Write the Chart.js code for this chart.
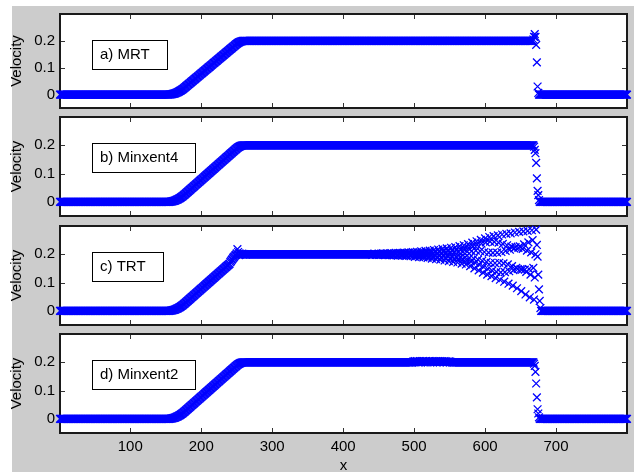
<!DOCTYPE html>
<html>
<head>
<meta charset="utf-8">
<script src="https://cdn.jsdelivr.net/npm/chart.js@4.4.1/dist/chart.umd.min.js"></script>
<style>
  html, body { margin: 0; padding: 0; background: #fff; }
  #fig { position: relative; width: 634px; height: 472px; overflow: hidden; }
  #bg { position: absolute; left: 12px; top: 6px; right: 0; bottom: 0; background: #cccccc; }
  canvas { position: absolute; left: 0; top: 0; }
</style>
</head>
<body>
<div id="fig">
  <div id="bg"></div>
  <canvas id="c0" width="634" height="472"></canvas>
  <canvas id="c1" width="634" height="472"></canvas>
  <canvas id="c2" width="634" height="472"></canvas>
  <canvas id="c3" width="634" height="472"></canvas>
</div>
<script>
// axis ticks
const xTicks = [100, 200, 300, 400, 500, 600, 700];
const yTicks = [0, 0.1, 0.2];
const panelNames = ['a) MRT', 'b) Minxent4', 'c) TRT', 'd) Minxent2'];

// velocity at x = 1..264 (rest state + ramp), same for every model
const leadVel = [
  0,0,0,0,0,0,0,0,0,0, 0,0,0,0,0,0,0,0,0,0,
  0,0,0,0,0,0,0,0,0,0, 0,0,0,0,0,0,0,0,0,0,
  0,0,0,0,0,0,0,0,0,0, 0,0,0,0,0,0,0,0,0,0,
  0,0,0,0,0,0,0,0,0,0, 0,0,0,0,0,0,0,0,0,0,
  0,0,0,0,0,0,0,0,0,0, 0,0,0,0,0,0,0,0,0,0,
  0,0,0,0,0,0,0,0,0,0, 0,0,0,0,0,0,0,0,0,0,
  0,0,0,0,0,0,0,0,0,0, 0,0,0,0,0,0,0,0,0,0,
  0,0,0,0,0,0,0,0,0,0, 0,0,
  0,0,.0002,.0004,.0007,.0012,.0017,.0023,.003,.0038,.0046,.0056,.0067,.0078,.0091,.0104,
  .0119,.0134,.015,.0167,.0185,.0204,.0224,.0245,.0267,
  .0289,.0311,.0333,.0356,.0378,.04,.0422,.0444,.0467,.0489,.0511,.0533,.0556,.0578,.06,.0622,
  .0644,.0667,.0689,.0711,.0733,.0756,.0778,.08,.0822,.0844,.0867,.0889,.0911,.0933,.0956,.0978,
  .1,.1022,.1044,.1067,.1089,.1111,.1133,.1156,.1178,.12,.1222,.1244,.1267,.1289,.1311,.1333,
  .1356,.1378,.14,.1422,.1444,.1467,.1489,.1511,.1533,.1556,.1578,.16,.1622,.1644,.1667,.1689,.1711,
  .1733,.1756,.1778,.18,.1822,.1844,.1867,.1888,.1907,.1925,.1941,.1955,.1967,.1977,.1985,.1992,
  .1996,.1999,.2,.2,.2,.2
];

// x = 265..660, constant state behind the ramp
const plateauVel = [
  .2,.2,.2,.2,.2,.2,.2,.2,.2,.2, .2,.2,.2,.2,.2,.2,.2,.2,.2,.2,
  .2,.2,.2,.2,.2,.2,.2,.2,.2,.2, .2,.2,.2,.2,.2,.2,.2,.2,.2,.2,
  .2,.2,.2,.2,.2,.2,.2,.2,.2,.2, .2,.2,.2,.2,.2,.2,.2,.2,.2,.2,
  .2,.2,.2,.2,.2,.2,.2,.2,.2,.2, .2,.2,.2,.2,.2,.2,.2,.2,.2,.2,
  .2,.2,.2,.2,.2,.2,.2,.2,.2,.2, .2,.2,.2,.2,.2,.2,.2,.2,.2,.2,
  .2,.2,.2,.2,.2,.2,.2,.2,.2,.2, .2,.2,.2,.2,.2,.2,.2,.2,.2,.2,
  .2,.2,.2,.2,.2,.2,.2,.2,.2,.2, .2,.2,.2,.2,.2,.2,.2,.2,.2,.2,
  .2,.2,.2,.2,.2,.2,.2,.2,.2,.2, .2,.2,.2,.2,.2,.2,.2,.2,.2,.2,
  .2,.2,.2,.2,.2,.2,.2,.2,.2,.2, .2,.2,.2,.2,.2,.2,.2,.2,.2,.2,
  .2,.2,.2,.2,.2,.2,.2,.2,.2,.2, .2,.2,.2,.2,.2,.2,.2,.2,.2,.2,
  .2,.2,.2,.2,.2,.2,.2,.2,.2,.2, .2,.2,.2,.2,.2,.2,.2,.2,.2,.2,
  .2,.2,.2,.2,.2,.2,.2,.2,.2,.2, .2,.2,.2,.2,.2,.2,.2,.2,.2,.2,
  .2,.2,.2,.2,.2,.2,.2,.2,.2,.2, .2,.2,.2,.2,.2,.2,.2,.2,.2,.2,
  .2,.2,.2,.2,.2,.2,.2,.2,.2,.2, .2,.2,.2,.2,.2,.2,.2,.2,.2,.2,
  .2,.2,.2,.2,.2,.2,.2,.2,.2,.2, .2,.2,.2,.2,.2,.2,.2,.2,.2,.2,
  .2,.2,.2,.2,.2,.2,.2,.2,.2,.2, .2,.2,.2,.2,.2,.2,.2,.2,.2,.2,
  .2,.2,.2,.2,.2,.2,.2,.2,.2,.2, .2,.2,.2,.2,.2,.2,.2,.2,.2,.2,
  .2,.2,.2,.2,.2,.2,.2,.2,.2,.2, .2,.2,.2,.2,.2,.2,.2,.2,.2,.2,
  .2,.2,.2,.2,.2,.2,.2,.2,.2,.2, .2,.2,.2,.2,.2,.2,.2,.2,.2,.2,
  .2,.2,.2,.2,.2,.2,.2,.2,.2,.2, .2,.2,.2,.2,.2,.2
];

// x = 681..800, undisturbed region ahead of the shock
const restVel = [
  0,0,0,0,0,0,0,0,0,0, 0,0,0,0,0,0,0,0,0,0,
  0,0,0,0,0,0,0,0,0,0, 0,0,0,0,0,0,0,0,0,0,
  0,0,0,0,0,0,0,0,0,0, 0,0,0,0,0,0,0,0,0,0,
  0,0,0,0,0,0,0,0,0,0, 0,0,0,0,0,0,0,0,0,0,
  0,0,0,0,0,0,0,0,0,0, 0,0,0,0,0,0,0,0,0,0,
  0,0,0,0,0,0,0,0,0,0, 0,0,0,0,0,0,0,0,0,0
];

// shock front, x = 661..680
const mrtShock   = [.2,.2,.2,.2,.2,.2,.2,.205,.215,.225,.215,.185,.12,.03,.006,0,0,0,0,0];
const minx4Shock = [.2,.2,.2,.2,.2,.2,.2,.2,.195,.184,.172,.138,.083,.039,.024,.006,0,0,0,0];
const minx2Shock = [.2,.2,.2,.2,.2,.2,.2,.2,.195,.187,.166,.125,.076,.034,.019,.005,0,0,0,0];

// Minxent2 small ripple, x = 498..553
const minx2Ripple = [
  .2,.203,.201,.204,.2,.202,.204,.201,
  .203,.2,.204,.202,.2,.203,.201,.204,
  .202,.2,.203,.204,.201,.2,.203,.202,
  .204,.2,.201,.203,.204,.2,.202,.203,
  .201,.204,.2,.202,.203,.201,.2,.204,
  .202,.201,.203,.2,.202,.204,.201,.203,
  .2,.202,.201,.203,.2,.202,.201,.2
];

// TRT ramp top, x = 241..264
const trtTop = [.172,.176,.18,.183,.187,.19,.193,.196,.199,.203,.218,.208,.197,.203,.199,.201,
  .2,.202,.199,.2,.201,.2,.199,.2];

// TRT oscillations, x = 441..680
const trtTail = [
  .198,.199,.201,
  .202,.201,.199,.198,.199,.201,  .202,.201,.199,.198,.199,.201,
  .203,.202,.199,.197,.198,.201,  .203,.202,.199,.197,.198,.201,
  .204,.202,.199,.196,.198,.201,  .205,.203,.198,.195,.197,.202,
  .205,.203,.198,.195,.197,.202,  .206,.204,.198,.194,.196,.202,
  .207,.204,.198,.193,.196,.202,  .208,.205,.197,.191,.195,.202,
  .209,.205,.197,.19,.194,.203,   .21,.206,.197,.189,.193,.203,
  .212,.207,.196,.187,.192,.204,  .213,.208,.196,.185,.191,.204,
  .215,.209,.195,.183,.19,.205,   .217,.21,.194,.181,.189,.205,
  .219,.211,.193,.178,.187,.206,  .221,.213,.193,.176,.186,.206,
  .223,.214,.192,.173,.184,.207,  .225,.215,.191,.171,.183,.208,
  .229,.217,.19,.167,.18,.209,    .232,.219,.189,.164,.178,.21,
  .236,.222,.187,.158,.175,.211,  .241,.228,.185,.15,.17,.213,
  .246,.233,.181,.143,.163,.211,  .251,.238,.177,.135,.155,.208,
  .256,.242,.173,.128,.148,.206,  .261,.245,.17,.123,.142,.205,
  .264,.244,.169,.116,.138,.206,  .267,.241,.17,.11,.136,.208,
  .27,.237,.168,.103,.137,.212,   .272,.232,.164,.096,.14,.216,
  .274,.227,.158,.089,.144,.221,  .277,.225,.152,.08,.148,.223,
  .279,.228,.148,.07,.146,.219,   .281,.235,.146,.058,.138,.213,
  .283,.242,.148,.048,.128,.207,  .285,.25,.152,.04,.118,.2,
  .287,.233,.192,.128,.076,.035,.01,0,0
];

const mrtVel = [...leadVel, ...plateauVel, ...mrtShock, ...restVel];
const minx4Vel = [...leadVel, ...plateauVel, ...minx4Shock, ...restVel];
const trtVel = [...leadVel.slice(0, 240), ...trtTop, ...plateauVel.slice(0, 176), ...trtTail, ...restVel];
const minx2Vel = [...leadVel, ...plateauVel.slice(0, 233), ...minx2Ripple, ...plateauVel.slice(289), ...minx2Shock, ...restVel];
const series = [mrtVel, minx4Vel, trtVel, minx2Vel];

// plot box of each panel in the page (pixels)
const panelTop = [9, 117, 226, 334];
const panelBottom = [108, 216, 325, 433];
const pageH = 472;

Chart.defaults.font.family = "'Liberation Sans', Arial, Helvetica, sans-serif";
Chart.defaults.font.size = 15;
Chart.defaults.color = '#000';

const framePlugin = {
  id: 'frame',
  beforeDraw(chart) {
    const {ctx, chartArea: a} = chart;
    ctx.save();
    ctx.fillStyle = '#fff';
    ctx.fillRect(a.left, a.top, a.right - a.left, a.bottom - a.top);
    ctx.restore();
  },
  beforeDatasetsDraw(chart) {
    const {ctx, chartArea: a, scales: {x, y}} = chart;
    ctx.save();
    // inward ticks on all four sides
    ctx.strokeStyle = '#333';
    ctx.lineWidth = 1;
    ctx.beginPath();
    xTicks.forEach(v => {
      const px = Math.round(x.getPixelForValue(v)) + 0.5;
      ctx.moveTo(px, a.top); ctx.lineTo(px, a.top + 5);
      ctx.moveTo(px, a.bottom); ctx.lineTo(px, a.bottom - 5);
    });
    yTicks.forEach(v => {
      const py = Math.round(y.getPixelForValue(v)) + 0.5;
      ctx.moveTo(a.left, py); ctx.lineTo(a.left + 5, py);
      ctx.moveTo(a.right, py); ctx.lineTo(a.right - 5, py);
    });
    ctx.stroke();
    ctx.strokeStyle = '#1a1a1a';
    ctx.lineWidth = 2;
    ctx.strokeRect(a.left, a.top, a.right - a.left, a.bottom - a.top);
    ctx.restore();
  },
  afterDraw(chart, args, opts) {
    const {ctx, chartArea: a} = chart;
    ctx.save();
    ctx.font = "15px 'Liberation Sans', Arial, sans-serif";
    const w = Math.round(ctx.measureText(opts.label).width + 25);
    const bx = a.left + 32.5, by = a.top + 26.5, bh = 29;
    ctx.fillStyle = '#fff';
    ctx.fillRect(bx, by, w, bh);
    ctx.strokeStyle = '#000';
    ctx.lineWidth = 1;
    ctx.strokeRect(bx, by, w, bh);
    ctx.fillStyle = '#000';
    ctx.textBaseline = 'middle';
    ctx.fillText(opts.label, bx + 7.5, by + bh / 2);
    ctx.restore();
  }
};

series.forEach((vel, i) => {
  const last = i === series.length - 1;
  new Chart(document.getElementById('c' + i), {
    type: 'scatter',
    data: {
      datasets: [{
        data: vel.map((v, k) => ({x: k + 1, y: v})),
        pointStyle: 'crossRot',
        pointRadius: 5.5,
        pointBorderWidth: 1.3,
        pointBorderColor: '#0000ff',
        pointBackgroundColor: '#0000ff',
        clip: 8
      }]
    },
    plugins: [framePlugin],
    options: {
      responsive: false,
      animation: false,
      events: [],
      layout: {padding: {top: panelTop[i], bottom: last ? 0 : pageH - panelBottom[i], left: 0, right: 7}},
      plugins: {
        legend: {display: false},
        tooltip: {enabled: false},
        frame: {label: panelNames[i]}
      },
      scales: {
        x: {
          type: 'linear', min: 1, max: 800,
          display: last,
          afterBuildTicks: s => { s.ticks = xTicks.map(v => ({value: v})); },
          afterFit: s => { s.height = last ? pageH - panelBottom[i] : 0; },
          grid: {display: false, drawTicks: false},
          border: {display: false},
          ticks: {padding: 5, maxRotation: 0, autoSkip: false},
          title: {display: true, text: 'x', font: {size: 15, lineHeight: 1}, padding: {top: 0, bottom: -1}}
        },
        y: {
          min: -0.05, max: 0.3,
          afterBuildTicks: s => { s.ticks = yTicks.map(v => ({value: v})); },
          afterFit: s => { s.width = 60; },
          grid: {display: false, drawTicks: false},
          border: {display: false},
          ticks: {padding: 5},
          title: {display: true, text: 'Velocity', font: {size: 15, lineHeight: 1}, padding: {top: 9, bottom: 0}}
        }
      }
    }
  });
});
</script>
</body>
</html>
